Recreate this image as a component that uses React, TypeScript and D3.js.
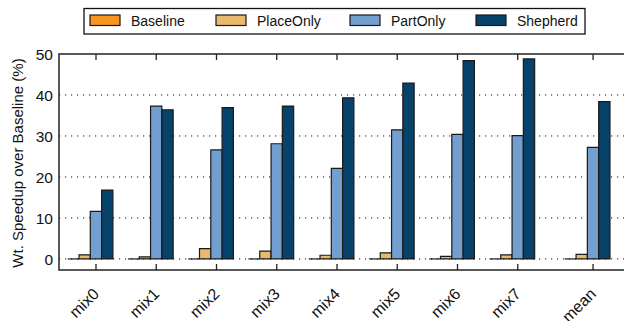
import React, { useEffect, useRef } from "react";
import * as d3 from "d3";

const categories = ["mix0", "mix1", "mix2", "mix3", "mix4", "mix5", "mix6", "mix7", "mean"];
const seriesNames = ["Baseline", "PlaceOnly", "PartOnly", "Shepherd"];
const baseline = [0, 0, 0, 0, 0, 0, 0, 0, 0];
const placeOnly = [1.0, 0.5, 2.5, 1.9, 0.9, 1.5, 0.6, 1.0, 1.1];
const partOnly = [11.6, 37.3, 26.6, 28.1, 22.1, 31.5, 30.4, 30.1, 27.2];
const shepherd = [16.8, 36.4, 36.9, 37.3, 39.3, 42.9, 48.4, 48.8, 38.4];
const yTicks = [0, 10, 20, 30, 40, 50];
const colors = ["#f7941d", "#e9b96e", "#729fcf", "#07426a"];

const W = 624;
const H = 321;
const FONT = "'Liberation Sans', Arial, sans-serif";

export default function App() {
  const ref = useRef<SVGSVGElement>(null);

  useEffect(() => {
    const svg = d3.select(ref.current);
    svg.selectAll("*").remove();

    const left = 59, top = 54, right = 624, bottom = 270;
    const series = [baseline, placeOnly, partOnly, shepherd];

    const y = d3.scaleLinear().domain([-2.7, 50]).range([bottom, top]);
    // slot index -> pixel, the mean group sits a bit further apart
    const slot = (i: number) => (i === categories.length - 1 ? i + 0.25 : i);
    const x = d3.scaleLinear().domain([0, 1]).range([96, 156.25]);
    const barW = 11.3;

    // grid
    svg.append("g")
      .selectAll("line")
      .data(yTicks.filter((t) => t < 50))
      .join("line")
      .attr("x1", left).attr("x2", right)
      .attr("y1", (d) => y(d)).attr("y2", (d) => y(d))
      .attr("stroke", "#111")
      .attr("stroke-width", 1)
      .attr("stroke-dasharray", "1.2,4.8");

    // bars (paths so that zero-height bars still show as a line)
    categories.forEach((c, i) => {
      const center = x(slot(i)) - 5.7;
      const g = svg.append("g");
      series.forEach((s, k) => {
        const v = s[i];
        const x0 = center - 2 * barW + k * barW;
        const p = d3.path();
        p.moveTo(x0, y(0));
        p.lineTo(x0, y(v));
        p.lineTo(x0 + barW, y(v));
        p.lineTo(x0 + barW, y(0));
        if (v !== 0) p.closePath();
        g.append("path")
          .attr("d", p.toString())
          .attr("fill", colors[k])
          .attr("stroke", "#1a1a1a")
          .attr("stroke-width", 1.2);
      });
    });

    // frame
    svg.append("rect")
      .attr("x", left).attr("y", top)
      .attr("width", right - left + 2).attr("height", bottom - top)
      .attr("fill", "none")
      .attr("stroke", "#222")
      .attr("stroke-width", 1.5);

    // x ticks (inward at top and bottom)
    categories.forEach((c, i) => {
      const tx = x(slot(i));
      svg.append("line").attr("x1", tx).attr("x2", tx).attr("y1", bottom).attr("y2", bottom - 6)
        .attr("stroke", "#222").attr("stroke-width", 1.3);
      svg.append("line").attr("x1", tx).attr("x2", tx).attr("y1", top).attr("y2", top + 6)
        .attr("stroke", "#222").attr("stroke-width", 1.3);
      svg.append("text")
        .attr("transform", `translate(${tx - 4},${bottom + 17}) rotate(-45)`)
        .attr("text-anchor", "end")
        .attr("dy", "0.7em")
        .attr("font-family", FONT)
        .attr("font-size", 16)
        .attr("fill", "#111")
        .text(c);
    });

    // y tick labels
    svg.append("g")
      .selectAll("text")
      .data(yTicks)
      .join("text")
      .attr("x", 53)
      .attr("y", (d) => y(d))
      .attr("dy", "0.36em")
      .attr("text-anchor", "end")
      .attr("font-family", FONT)
      .attr("font-size", 15.5)
      .attr("fill", "#111")
      .text((d) => d);

    svg.append("text")
      .attr("transform", `translate(23,${(top + bottom) / 2 + 1}) rotate(-90)`)
      .attr("text-anchor", "middle")
      .attr("font-family", FONT)
      .attr("font-size", 15)
      .attr("fill", "#111")
      .text("Wt. Speedup over Baseline (%)");

    // legend
    const lg = svg.append("g");
    lg.append("rect")
      .attr("x", 84).attr("y", 8.5).attr("width", 501).attr("height", 25.5)
      .attr("fill", "white").attr("stroke", "#111").attr("stroke-width", 1.3);
    const swatchX = [90, 216, 350, 476];
    seriesNames.forEach((n, k) => {
      lg.append("rect")
        .attr("x", swatchX[k]).attr("y", 15).attr("width", 30).attr("height", 10.5)
        .attr("fill", colors[k]).attr("stroke", "#1a1a1a").attr("stroke-width", 1.2);
      lg.append("text")
        .attr("x", swatchX[k] + 41).attr("y", 20.5).attr("dy", "0.36em")
        .attr("font-family", FONT)
        .attr("font-size", 14)
        .attr("fill", "#111")
        .text(n);
    });
  }, []);

  return (
    <svg ref={ref} width={W} height={H} style={{ position: "absolute", left: 0, top: 0 }} />
  );
}
